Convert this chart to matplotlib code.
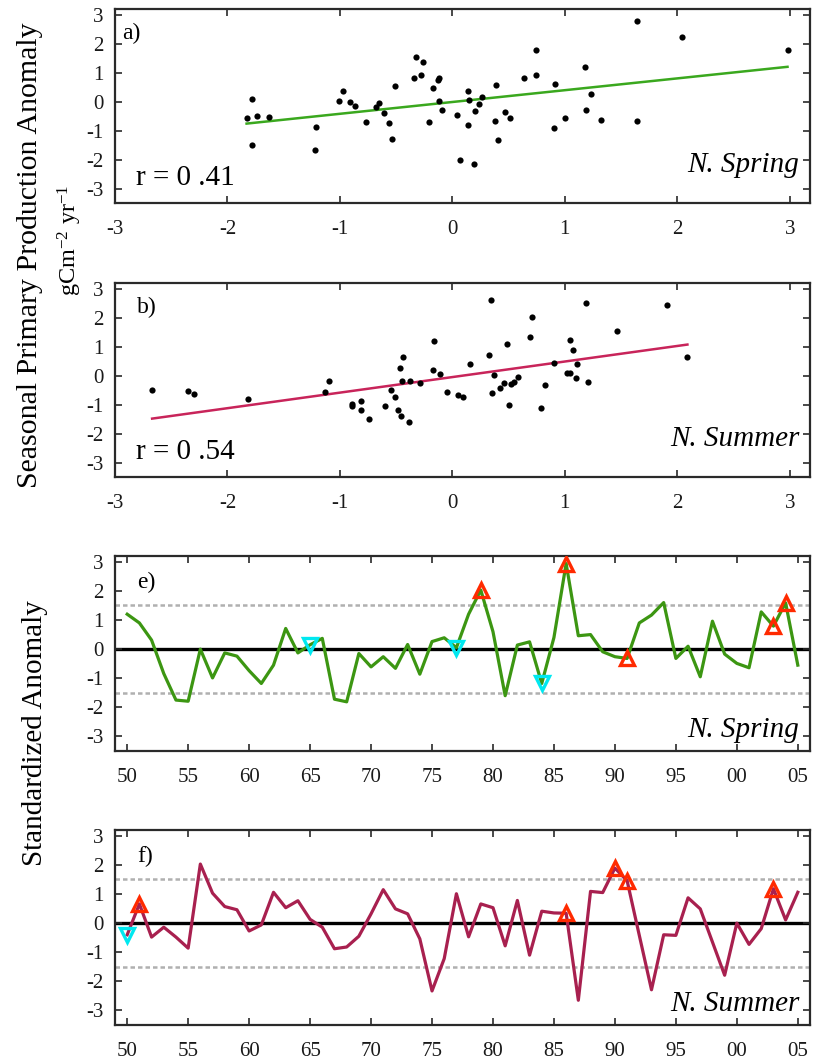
import numpy as np
import matplotlib
matplotlib.use("Agg")
import matplotlib.pyplot as plt

plt.rcParams["font.family"] = ["Liberation Serif", "DejaVu Serif"]
plt.rcParams["mathtext.fontset"] = "custom"
plt.rcParams["mathtext.rm"] = "Liberation Serif"
plt.rcParams["mathtext.it"] = "Liberation Serif:italic"
plt.rcParams["axes.unicode_minus"] = False

# ---- scatter data: standardized index (x) vs. primary production anomaly (y)
spring_x = [-1.83, -1.78, -1.78, -1.74, -1.63, -1.21, -1.22, -1.01, -0.97, -0.91,
            -0.87, -0.77, -0.68, -0.65, -0.61, -0.56, -0.54, -0.51, -0.34, -0.32,
            -0.28, -0.26, -0.21, -0.17, -0.13, -0.12, -0.12, -0.09, 0.04, 0.07,
            0.14, 0.14, 0.15, 0.19, 0.20, 0.24, 0.26, 0.38, 0.39, 0.41,
            0.47, 0.51, 0.64, 0.74, 0.74, 0.90, 0.91, 1.00, 1.18, 1.19,
            1.23, 1.32, 1.64, 1.64, 2.04, 2.98]
spring_y = [-0.56, 0.09, -1.48, -0.51, -0.54, -0.89, -1.68, 0.03, 0.38, -0.02,
            -0.15, -0.69, -0.17, -0.06, -0.38, -0.72, -1.29, 0.53, 0.80, 1.55,
            0.92, 1.38, -0.69, 0.46, 0.76, 0.82, 0.03, -0.29, -0.45, -2.01,
            -0.79, 0.38, 0.06, -2.15, -0.31, -0.08, 0.16, -0.67, 0.56, -1.31,
            -0.37, -0.55, 0.83, 1.80, 0.93, -0.90, 0.62, -0.55, 1.20, -0.28,
            0.28, -0.64, 2.78, -0.66, 2.23, 1.78]

summer_x = [-2.67, -2.35, -2.30, -1.82, -1.13, -1.10, -0.89, -0.89, -0.81, -0.81,
            -0.74, -0.60, -0.55, -0.51, -0.48, -0.47, -0.46, -0.44, -0.45, -0.39,
            -0.38, -0.29, -0.16, -0.17, -0.11, -0.05, 0.05, 0.09, 0.16, 0.33,
            0.34, 0.35, 0.37, 0.42, 0.46, 0.49, 0.50, 0.52, 0.55, 0.58,
            0.69, 0.71, 0.79, 0.82, 0.90, 1.02, 1.05, 1.05, 1.07, 1.10,
            1.11, 1.19, 1.21, 1.46, 1.91, 2.09]
summer_y = [-0.49, -0.53, -0.63, -0.82, -0.56, -0.19, -0.98, -1.05, -0.86, -1.18,
            -1.50, -1.05, -0.50, -0.74, -1.19, 0.27, -1.40, 0.66, -0.18, -1.59,
            -0.17, -0.25, 1.19, 0.18, 0.05, -0.56, -0.66, -0.72, 0.41, 0.72,
            2.60, -0.61, 0.01, -0.41, -0.24, 1.11, -1.01, -0.28, -0.21, -0.03,
            1.33, 2.04, -1.11, -0.33, 0.45, 0.08, 0.10, 1.23, 0.87, -0.08,
            0.41, 2.51, -0.22, 1.55, 2.44, 0.64]

spring_r = "r = 0 .41"
summer_r = "r = 0 .54"

# ---- time series of standardized anomalies, 1950-2005
years = list(range(1950, 2006))
spring_anom = [1.20, 0.90, 0.31, -0.84, -1.75, -1.79, 0.00, -0.99, -0.13, -0.24,
               -0.74, -1.18, -0.55, 0.71, -0.13, 0.15, 0.37, -1.72, -1.81, -0.15,
               -0.61, -0.26, -0.66, 0.16, -0.86, 0.26, 0.39, 0.05, 1.20, 2.03,
               0.60, -1.60, 0.14, 0.25, -1.18, 0.40, 2.94, 0.46, 0.50, -0.09,
               -0.26, -0.32, 0.90, 1.17, 1.60, -0.32, 0.10, -0.95, 0.96, -0.17,
               -0.49, -0.64, 1.28, 0.79, 1.59, -0.55]
summer_anom = [-0.40, 0.66, -0.48, -0.14, -0.48, -0.86, 2.03, 1.03, 0.57, 0.46,
               -0.27, -0.06, 1.06, 0.53, 0.77, 0.13, -0.14, -0.88, -0.82, -0.45,
               0.32, 1.15, 0.49, 0.32, -0.54, -2.33, -1.22, 1.01, -0.47, 0.66,
               0.53, -0.78, 0.78, -1.10, 0.41, 0.35, 0.34, -2.65, 1.09, 1.05,
               1.89, 1.46, -0.42, -2.29, -0.40, -0.42, 0.87, 0.49, -0.65, -1.79,
               0.00, -0.73, -0.19, 1.18, 0.11, 1.06]

spring_warm = [1979, 1986, 1991, 2003, 2004]
spring_cold = [1965, 1977, 1984]
summer_warm = [1951, 1986, 1990, 1991, 2003]
summer_cold = [1950]

year_ticks = list(range(1950, 2006, 5))
year_labels = ["50", "55", "60", "65", "70", "75", "80", "85", "90", "95", "00", "05"]

W, H = 813, 1063
fig = plt.figure(figsize=(W / 100, H / 100), dpi=100)


def box(px_left, px_top, px_right, px_bottom):
    return [px_left / W, 1 - px_bottom / H, (px_right - px_left) / W,
            (px_bottom - px_top) / H]


def style_axes(ax):
    for s in ax.spines.values():
        s.set_linewidth(1.6)
        s.set_color("#2a2a2a")
    ax.tick_params(direction="in", length=5, width=1.2, colors="#2a2a2a",
                   labelcolor="#1a1a1a", labelsize=15, top=True, right=True)
    ax.tick_params(axis="x", pad=12)
    ax.tick_params(axis="y", pad=8)
    ax.set_ylim(-3.5, 3.2)
    ax.set_yticks([-3, -2, -1, 0, 1, 2, 3])


def scatter_panel(ax, x, y, color, tag, tag_x, rtext, season):
    style_axes(ax)
    ax.scatter(x, y, s=20, color="black", zorder=3, linewidths=0)
    slope, icpt = np.polyfit(x, y, 1)
    xs = np.array([min(x), max(x)])
    ax.plot(xs, slope * xs + icpt, color=color, lw=1.8, zorder=2)
    ax.set_xlim(-3, 3.18)
    ax.set_xticks([-3, -2, -1, 0, 1, 2, 3])
    ax.text(tag_x, 0.93, tag, transform=ax.transAxes, fontsize=17, va="top")
    ax.text(0.03, 0.06, rtext, transform=ax.transAxes, fontsize=21, va="bottom")
    ax.text(0.985, 0.13, season, transform=ax.transAxes, fontsize=21,
            style="italic", ha="right", va="bottom")


def series_panel(ax, vals, color, tag, season, warm, cold):
    style_axes(ax)
    ax.axhline(0, color="black", lw=2.4, zorder=1)
    for lvl in (1.5, -1.5):
        ax.axhline(lvl, color="#b0b0b0", lw=1.8, ls=(0, (1.8, 1.2)), zorder=1)
    ax.plot(years, vals, color=color, lw=2.3, zorder=2)
    lookup = dict(zip(years, vals))
    ax.plot(warm, [lookup[y] for y in warm], ls="none", marker="^", ms=10.5,
            mfc="none", mec="#ff2a00", mew=2.4, zorder=4)
    ax.plot(cold, [lookup[y] for y in cold], ls="none", marker="v", ms=10.5,
            mfc="none", mec="#00e8f0", mew=2.4, zorder=4)
    ax.set_xlim(1949, 2006)
    ax.set_xticks(year_ticks)
    ax.set_xticklabels(year_labels)
    ax.text(0.032, 0.92, tag, transform=ax.transAxes, fontsize=17, va="top")
    ax.text(0.985, 0.04, season, transform=ax.transAxes, fontsize=21,
            style="italic", ha="right", va="bottom")


ax_a = fig.add_axes(box(115, 9, 810, 203))
scatter_panel(ax_a, spring_x, spring_y, "#3aa81e", "a)", 0.01, spring_r, "N. Spring")

ax_b = fig.add_axes(box(115, 283, 810, 477))
scatter_panel(ax_b, summer_x, summer_y, "#c8245a", "b)", 0.032, summer_r, "N. Summer")

ax_e = fig.add_axes(box(115, 556, 810, 751))
series_panel(ax_e, spring_anom, "#3c9612", "e)", "N. Spring", spring_warm, spring_cold)

ax_f = fig.add_axes(box(115, 830, 810, 1025))
series_panel(ax_f, summer_anom, "#a8204f", "f)", "N. Summer", summer_warm, summer_cold)

fig.text(30 / W, 1 - 255 / H, "Seasonal Primary Production Anomaly",
         rotation=90, fontsize=21.5, ha="center", va="center")
fig.text(70 / W, 1 - 240 / H, r"gCm$^{\mathregular{-2}}$ yr$^{\mathregular{-1}}$",
         rotation=90, fontsize=17.5, ha="center", va="center")
fig.text(35 / W, 1 - 733 / H, "Standardized Anomaly",
         rotation=90, fontsize=21, ha="center", va="center")

fig.savefig("out.png", dpi=100)
